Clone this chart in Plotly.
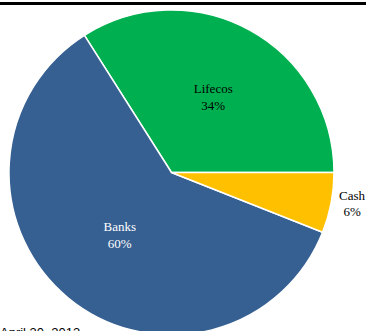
import plotly.graph_objects as go

categories = ["Lifecos", "Banks", "Cash"]
shares = [34, 60, 6]
colors = ["#00B050", "#376092", "#FFC000"]
text_colors = ["black", "white", "black"]
text_positions = ["inside", "inside", "outside"]
date_label = "April 30, 2013"

# canvas slightly larger than the 368x331 view; overflow is hidden
W, H = 380, 339

# counterclockwise pies in plotly end the first slice at `rotation`;
# shift so the first slice starts at 3 o'clock
first_span = 360 * shares[0] / sum(shares)
rotation = 90 - first_span

fig = go.Figure(go.Pie(
    labels=categories,
    values=shares,
    sort=False,
    direction="counterclockwise",
    rotation=rotation,
    marker=dict(colors=colors, line=dict(color="white", width=1.5)),
    texttemplate="%{label}<br>%{percent:.0%}",
    textposition=text_positions,
    insidetextorientation="horizontal",
    textfont=dict(family="Liberation Serif", size=13, color=text_colors),
    domain=dict(x=[9 / W, 334 / W], y=[4 / H, (H - 10) / H]),
    showlegend=False,
    hoverinfo="label+percent",
))

fig.add_shape(type="line", xref="paper", yref="paper",
              x0=0, x1=366 / W, y0=1 - 3.5 / H, y1=1 - 3.5 / H,
              line=dict(color="black", width=3))

fig.add_annotation(text=date_label, xref="paper", yref="paper",
                   x=-2 / W, y=1 - 323 / H, xanchor="left", yanchor="top",
                   showarrow=False,
                   font=dict(family="Liberation Sans", size=13, color="black"))

fig.update_layout(width=W, height=H, margin=dict(l=0, r=0, t=0, b=0),
                  paper_bgcolor="white", plot_bgcolor="white")

fig.write_html("out.html", post_script="document.body.style.overflow='hidden';document.documentElement.style.overflow='hidden';")
